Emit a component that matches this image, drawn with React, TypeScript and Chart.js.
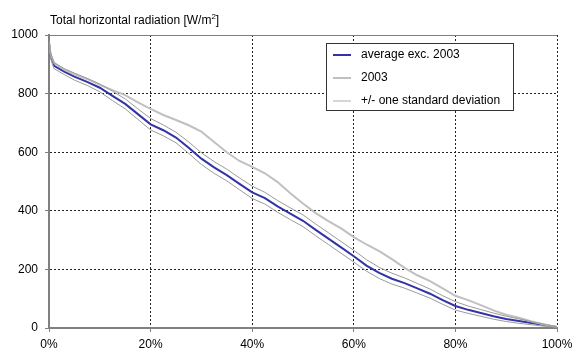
import React, { useEffect, useRef } from "react";
import { Chart, registerables } from "chart.js";

Chart.register(...registerables);

const xPct = [0, 0.3, 1, 3, 5, 7.5, 10, 12.5, 15, 17.5, 20, 22.5, 25, 27.5, 30, 32.5, 35, 37.5, 40, 42.5, 45, 47.5, 50, 52.5, 55, 57.5, 60, 62.5, 65, 67.5, 70, 72.5, 75, 77.5, 80, 82.5, 85, 87.5, 90, 92.5, 95, 97.5, 100];

const averageExc2003 = [975, 930, 895, 875, 858, 840, 820, 792, 765, 730, 695, 675, 650, 615, 578, 548, 522, 492, 463, 443, 415, 390, 366, 335, 305, 275, 245, 213, 188, 168, 153, 135, 117, 95, 75, 62, 51, 40, 31, 24, 17, 10, 3];

const year2003 = [975, 935, 905, 882, 866, 850, 830, 812, 795, 770, 748, 727, 710, 692, 670, 635, 600, 570, 550, 528, 498, 460, 425, 392, 365, 340, 310, 285, 262, 235, 205, 180, 160, 135, 110, 95, 78, 60, 45, 35, 22, 12, 3];

const stdUpper = [980, 940, 905, 885, 870, 852, 833, 808, 782, 748, 715, 693, 668, 635, 598, 568, 542, 512, 484, 463, 435, 410, 386, 355, 325, 295, 265, 233, 207, 187, 171, 152, 133, 110, 90, 75, 63, 51, 40, 31, 22, 13, 4];

const stdLower = [970, 920, 885, 865, 846, 828, 806, 776, 748, 712, 676, 656, 632, 596, 558, 528, 502, 472, 442, 423, 395, 370, 346, 315, 285, 255, 225, 194, 169, 150, 136, 119, 102, 81, 61, 50, 40, 30, 22, 16, 11, 6, 2];

const legendLabels = ["average exc. 2003", "2003", "+/- one standard deviation"];
const titleText = "Total horizontal radiation [W/m";
const FONT = "'Liberation Sans', Arial, sans-serif";

const toPts = (ys: number[]) => xPct.map((x, i) => ({ x, y: ys[i] }));

export default function App() {
  const ref = useRef<HTMLCanvasElement | null>(null);
  useEffect(() => {
    if (!ref.current) return;
    const decor = {
      id: "decor",
      beforeDatasetsDraw(chart: any) {
        const { ctx, chartArea } = chart;
        ctx.save();
        ctx.strokeStyle = "#808080";
        ctx.lineWidth = 1;
        ctx.beginPath();
        ctx.moveTo(chartArea.left, Math.round(chartArea.top) + 0.5);
        ctx.lineTo(chartArea.right, Math.round(chartArea.top) + 0.5);
        ctx.stroke();
        ctx.restore();
      },
      afterDraw(chart: any) {
        const { ctx } = chart;
        ctx.save();
        ctx.fillStyle = "#000";
        ctx.font = `12px ${FONT}`;
        ctx.textBaseline = "alphabetic";
        ctx.textAlign = "left";
        ctx.fillText(titleText, 50, 24);
        const w = ctx.measureText(titleText).width;
        ctx.font = `8px ${FONT}`;
        ctx.fillText("2", 50 + w, 19);
        const w2 = ctx.measureText("2").width;
        ctx.font = `12px ${FONT}`;
        ctx.fillText("]", 50 + w + w2, 24);
        const bx = 326.5, by = 43.5, bw = 187, bh = 67;
        ctx.fillStyle = "#fff";
        ctx.fillRect(bx, by, bw, bh);
        ctx.strokeStyle = "#333";
        ctx.lineWidth = 1;
        ctx.strokeRect(bx, by, bw, bh);
        const colors = ["#3333a8", "#c0c0c0", "#c8c8c8"];
        const widths = [2, 2, 1.5];
        const rows = [55, 78, 101];
        rows.forEach((ry, i) => {
          ctx.strokeStyle = colors[i];
          ctx.lineWidth = widths[i];
          ctx.beginPath();
          ctx.moveTo(333, ry);
          ctx.lineTo(351, ry);
          ctx.stroke();
          ctx.fillStyle = "#000";
          ctx.font = `12px ${FONT}`;
          ctx.textBaseline = "middle";
          ctx.fillText(legendLabels[i], 361, ry);
        });
        ctx.restore();
      },
    };
    const chart = new Chart(ref.current, {
      type: "line",
      data: {
        datasets: [
          { label: "upper", data: toPts(stdUpper), borderColor: "#9a9a9a", borderWidth: 1, pointRadius: 0 },
          { label: "lower", data: toPts(stdLower), borderColor: "#9a9a9a", borderWidth: 1, pointRadius: 0 },
          { label: legendLabels[1], data: toPts(year2003), borderColor: "#c0c0c0", borderWidth: 2, pointRadius: 0 },
          { label: legendLabels[0], data: toPts(averageExc2003), borderColor: "#3333a8", borderWidth: 2, pointRadius: 0 },
        ],
      },
      options: {
        animation: false,
        responsive: false,
        maintainAspectRatio: false,
        layout: { padding: { top: 35, right: 33, left: 0, bottom: 0 } },
        plugins: { legend: { display: false }, tooltip: { enabled: false }, title: { display: false } },
        scales: {
          x: {
            type: "linear",
            min: 0,
            max: 100,
            ticks: {
              stepSize: 20,
              callback: (v: any) => `${v}%`,
              color: "#000",
              font: { family: FONT, size: 12 },
              padding: 5,
              maxRotation: 0,
            },
            grid: { color: "#222", lineWidth: 1, tickLength: 4, tickColor: "#808080" },
            border: { display: true, color: "#808080", width: 2, dash: [2, 2] },
            afterFit: (s: any) => { s.height = 32; },
          },
          y: {
            min: 0,
            max: 1000,
            ticks: {
              stepSize: 200,
              callback: (v: any) => String(v),
              color: "#000",
              font: { family: FONT, size: 12 },
              padding: 7,
            },
            grid: { color: "#222", lineWidth: 1, tickLength: 4, tickColor: "#808080" },
            border: { display: true, color: "#808080", width: 2, dash: [2, 2] },
            afterFit: (s: any) => { s.width = 49; },
          },
        },
      },
      plugins: [decor],
    } as any);
    return () => chart.destroy();
  }, []);
  return (
    <div style={{ position: "absolute", left: 0, top: 0, width: 573, height: 349, overflow: "hidden", background: "#fff" }}>
      <canvas ref={ref} width={590} height={360} style={{ display: "block" }} />
    </div>
  );
}
